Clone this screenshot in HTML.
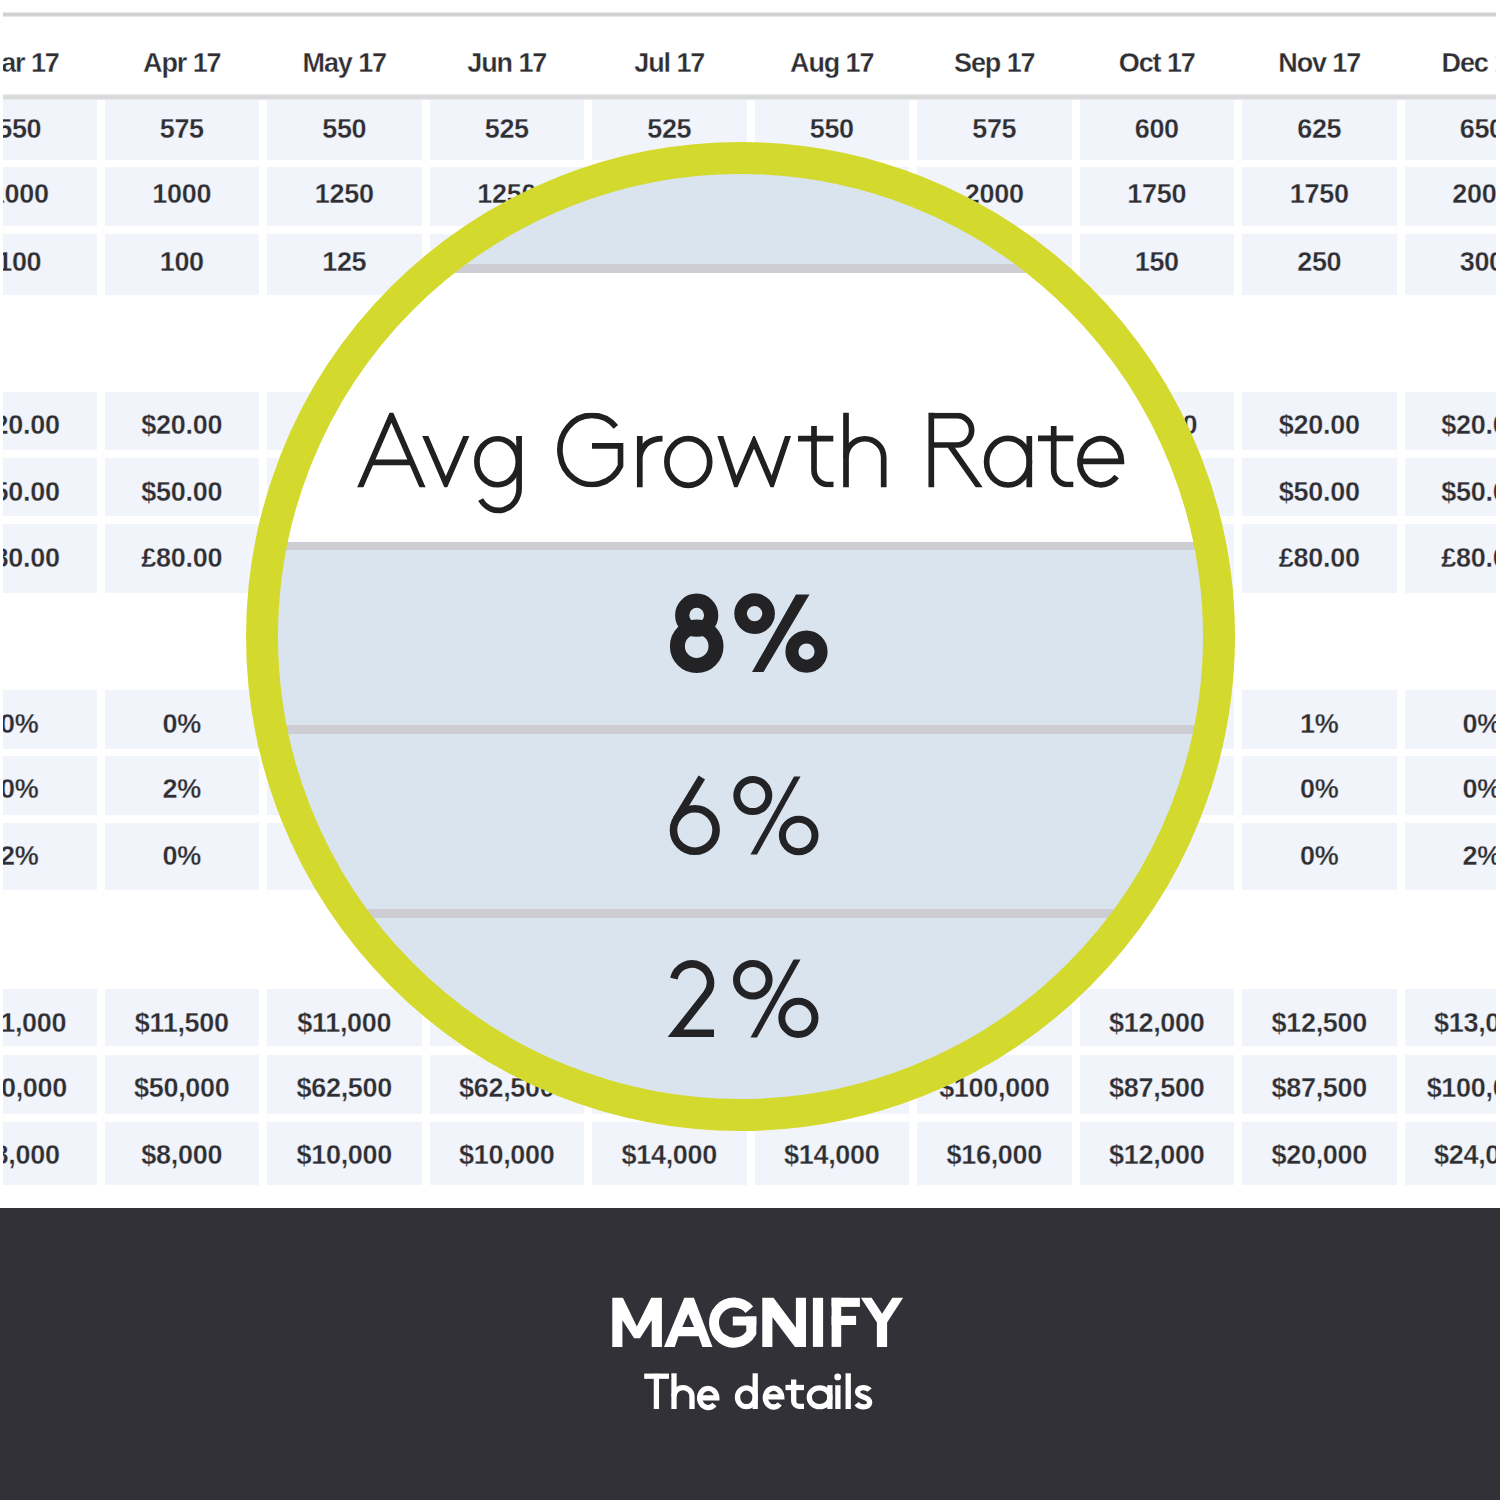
<!DOCTYPE html>
<html><head><meta charset="utf-8"><title>Magnify the details</title>
<style>
html,body{margin:0;padding:0;}
body{width:1500px;height:1500px;position:relative;overflow:hidden;background:#ffffff;font-family:"Liberation Sans", sans-serif;}
.b{position:absolute;}
.t{position:absolute;white-space:nowrap;font-family:"Liberation Sans", sans-serif;}
</style></head><body>
<div class="b" style="left:3px;top:12px;width:1494px;height:5px;background:linear-gradient(#f0f0f1,#cfcfd1 35%,#cfcfd1 65%,#f0f0f1)"></div>
<div class="t" style="left:-280.75px;top:50.14px;width:600px;font-size:27px;line-height:27px;font-weight:bold;color:#2e2e33;text-align:center;letter-spacing:-1.1px;-webkit-text-stroke:0.3px #fff;">Mar 17</div>
<div class="t" style="left:-118.25px;top:50.14px;width:600px;font-size:27px;line-height:27px;font-weight:bold;color:#2e2e33;text-align:center;letter-spacing:-1.1px;-webkit-text-stroke:0.3px #fff;">Apr 17</div>
<div class="t" style="left:44.25px;top:50.14px;width:600px;font-size:27px;line-height:27px;font-weight:bold;color:#2e2e33;text-align:center;letter-spacing:-1.1px;-webkit-text-stroke:0.3px #fff;">May 17</div>
<div class="t" style="left:206.75px;top:50.14px;width:600px;font-size:27px;line-height:27px;font-weight:bold;color:#2e2e33;text-align:center;letter-spacing:-1.1px;-webkit-text-stroke:0.3px #fff;">Jun 17</div>
<div class="t" style="left:369.25px;top:50.14px;width:600px;font-size:27px;line-height:27px;font-weight:bold;color:#2e2e33;text-align:center;letter-spacing:-1.1px;-webkit-text-stroke:0.3px #fff;">Jul 17</div>
<div class="t" style="left:531.75px;top:50.14px;width:600px;font-size:27px;line-height:27px;font-weight:bold;color:#2e2e33;text-align:center;letter-spacing:-1.1px;-webkit-text-stroke:0.3px #fff;">Aug 17</div>
<div class="t" style="left:694.25px;top:50.14px;width:600px;font-size:27px;line-height:27px;font-weight:bold;color:#2e2e33;text-align:center;letter-spacing:-1.1px;-webkit-text-stroke:0.3px #fff;">Sep 17</div>
<div class="t" style="left:856.75px;top:50.14px;width:600px;font-size:27px;line-height:27px;font-weight:bold;color:#2e2e33;text-align:center;letter-spacing:-1.1px;-webkit-text-stroke:0.3px #fff;">Oct 17</div>
<div class="t" style="left:1019.25px;top:50.14px;width:600px;font-size:27px;line-height:27px;font-weight:bold;color:#2e2e33;text-align:center;letter-spacing:-1.1px;-webkit-text-stroke:0.3px #fff;">Nov 17</div>
<div class="t" style="left:1181.75px;top:50.14px;width:600px;font-size:27px;line-height:27px;font-weight:bold;color:#2e2e33;text-align:center;letter-spacing:-1.1px;-webkit-text-stroke:0.3px #fff;">Dec 17</div>
<div class="b" style="left:3.0px;top:100px;width:93.5px;height:60px;background:#f1f4fa"></div>
<div class="b" style="left:104.5px;top:100px;width:154.5px;height:60px;background:#f1f4fa"></div>
<div class="b" style="left:267.0px;top:100px;width:154.5px;height:60px;background:#f1f4fa"></div>
<div class="b" style="left:429.5px;top:100px;width:154.5px;height:60px;background:#f1f4fa"></div>
<div class="b" style="left:592.0px;top:100px;width:154.5px;height:60px;background:#f1f4fa"></div>
<div class="b" style="left:754.5px;top:100px;width:154.5px;height:60px;background:#f1f4fa"></div>
<div class="b" style="left:917.0px;top:100px;width:154.5px;height:60px;background:#f1f4fa"></div>
<div class="b" style="left:1079.5px;top:100px;width:154.5px;height:60px;background:#f1f4fa"></div>
<div class="b" style="left:1242.0px;top:100px;width:154.5px;height:60px;background:#f1f4fa"></div>
<div class="b" style="left:1404.5px;top:100px;width:91.5px;height:60px;background:#f1f4fa"></div>
<div class="b" style="left:3.0px;top:167px;width:93.5px;height:59px;background:#f1f4fa"></div>
<div class="b" style="left:104.5px;top:167px;width:154.5px;height:59px;background:#f1f4fa"></div>
<div class="b" style="left:267.0px;top:167px;width:154.5px;height:59px;background:#f1f4fa"></div>
<div class="b" style="left:429.5px;top:167px;width:154.5px;height:59px;background:#f1f4fa"></div>
<div class="b" style="left:592.0px;top:167px;width:154.5px;height:59px;background:#f1f4fa"></div>
<div class="b" style="left:754.5px;top:167px;width:154.5px;height:59px;background:#f1f4fa"></div>
<div class="b" style="left:917.0px;top:167px;width:154.5px;height:59px;background:#f1f4fa"></div>
<div class="b" style="left:1079.5px;top:167px;width:154.5px;height:59px;background:#f1f4fa"></div>
<div class="b" style="left:1242.0px;top:167px;width:154.5px;height:59px;background:#f1f4fa"></div>
<div class="b" style="left:1404.5px;top:167px;width:91.5px;height:59px;background:#f1f4fa"></div>
<div class="b" style="left:3.0px;top:234px;width:93.5px;height:61px;background:#f1f4fa"></div>
<div class="b" style="left:104.5px;top:234px;width:154.5px;height:61px;background:#f1f4fa"></div>
<div class="b" style="left:267.0px;top:234px;width:154.5px;height:61px;background:#f1f4fa"></div>
<div class="b" style="left:429.5px;top:234px;width:154.5px;height:61px;background:#f1f4fa"></div>
<div class="b" style="left:592.0px;top:234px;width:154.5px;height:61px;background:#f1f4fa"></div>
<div class="b" style="left:754.5px;top:234px;width:154.5px;height:61px;background:#f1f4fa"></div>
<div class="b" style="left:917.0px;top:234px;width:154.5px;height:61px;background:#f1f4fa"></div>
<div class="b" style="left:1079.5px;top:234px;width:154.5px;height:61px;background:#f1f4fa"></div>
<div class="b" style="left:1242.0px;top:234px;width:154.5px;height:61px;background:#f1f4fa"></div>
<div class="b" style="left:1404.5px;top:234px;width:91.5px;height:61px;background:#f1f4fa"></div>
<div class="b" style="left:3.0px;top:392px;width:93.5px;height:58px;background:#f1f4fa"></div>
<div class="b" style="left:104.5px;top:392px;width:154.5px;height:58px;background:#f1f4fa"></div>
<div class="b" style="left:267.0px;top:392px;width:154.5px;height:58px;background:#f1f4fa"></div>
<div class="b" style="left:429.5px;top:392px;width:154.5px;height:58px;background:#f1f4fa"></div>
<div class="b" style="left:592.0px;top:392px;width:154.5px;height:58px;background:#f1f4fa"></div>
<div class="b" style="left:754.5px;top:392px;width:154.5px;height:58px;background:#f1f4fa"></div>
<div class="b" style="left:917.0px;top:392px;width:154.5px;height:58px;background:#f1f4fa"></div>
<div class="b" style="left:1079.5px;top:392px;width:154.5px;height:58px;background:#f1f4fa"></div>
<div class="b" style="left:1242.0px;top:392px;width:154.5px;height:58px;background:#f1f4fa"></div>
<div class="b" style="left:1404.5px;top:392px;width:91.5px;height:58px;background:#f1f4fa"></div>
<div class="b" style="left:3.0px;top:458px;width:93.5px;height:58px;background:#f1f4fa"></div>
<div class="b" style="left:104.5px;top:458px;width:154.5px;height:58px;background:#f1f4fa"></div>
<div class="b" style="left:267.0px;top:458px;width:154.5px;height:58px;background:#f1f4fa"></div>
<div class="b" style="left:429.5px;top:458px;width:154.5px;height:58px;background:#f1f4fa"></div>
<div class="b" style="left:592.0px;top:458px;width:154.5px;height:58px;background:#f1f4fa"></div>
<div class="b" style="left:754.5px;top:458px;width:154.5px;height:58px;background:#f1f4fa"></div>
<div class="b" style="left:917.0px;top:458px;width:154.5px;height:58px;background:#f1f4fa"></div>
<div class="b" style="left:1079.5px;top:458px;width:154.5px;height:58px;background:#f1f4fa"></div>
<div class="b" style="left:1242.0px;top:458px;width:154.5px;height:58px;background:#f1f4fa"></div>
<div class="b" style="left:1404.5px;top:458px;width:91.5px;height:58px;background:#f1f4fa"></div>
<div class="b" style="left:3.0px;top:524px;width:93.5px;height:69px;background:#f1f4fa"></div>
<div class="b" style="left:104.5px;top:524px;width:154.5px;height:69px;background:#f1f4fa"></div>
<div class="b" style="left:267.0px;top:524px;width:154.5px;height:69px;background:#f1f4fa"></div>
<div class="b" style="left:429.5px;top:524px;width:154.5px;height:69px;background:#f1f4fa"></div>
<div class="b" style="left:592.0px;top:524px;width:154.5px;height:69px;background:#f1f4fa"></div>
<div class="b" style="left:754.5px;top:524px;width:154.5px;height:69px;background:#f1f4fa"></div>
<div class="b" style="left:917.0px;top:524px;width:154.5px;height:69px;background:#f1f4fa"></div>
<div class="b" style="left:1079.5px;top:524px;width:154.5px;height:69px;background:#f1f4fa"></div>
<div class="b" style="left:1242.0px;top:524px;width:154.5px;height:69px;background:#f1f4fa"></div>
<div class="b" style="left:1404.5px;top:524px;width:91.5px;height:69px;background:#f1f4fa"></div>
<div class="b" style="left:3.0px;top:690px;width:93.5px;height:59px;background:#f1f4fa"></div>
<div class="b" style="left:104.5px;top:690px;width:154.5px;height:59px;background:#f1f4fa"></div>
<div class="b" style="left:267.0px;top:690px;width:154.5px;height:59px;background:#f1f4fa"></div>
<div class="b" style="left:429.5px;top:690px;width:154.5px;height:59px;background:#f1f4fa"></div>
<div class="b" style="left:592.0px;top:690px;width:154.5px;height:59px;background:#f1f4fa"></div>
<div class="b" style="left:754.5px;top:690px;width:154.5px;height:59px;background:#f1f4fa"></div>
<div class="b" style="left:917.0px;top:690px;width:154.5px;height:59px;background:#f1f4fa"></div>
<div class="b" style="left:1079.5px;top:690px;width:154.5px;height:59px;background:#f1f4fa"></div>
<div class="b" style="left:1242.0px;top:690px;width:154.5px;height:59px;background:#f1f4fa"></div>
<div class="b" style="left:1404.5px;top:690px;width:91.5px;height:59px;background:#f1f4fa"></div>
<div class="b" style="left:3.0px;top:756px;width:93.5px;height:59px;background:#f1f4fa"></div>
<div class="b" style="left:104.5px;top:756px;width:154.5px;height:59px;background:#f1f4fa"></div>
<div class="b" style="left:267.0px;top:756px;width:154.5px;height:59px;background:#f1f4fa"></div>
<div class="b" style="left:429.5px;top:756px;width:154.5px;height:59px;background:#f1f4fa"></div>
<div class="b" style="left:592.0px;top:756px;width:154.5px;height:59px;background:#f1f4fa"></div>
<div class="b" style="left:754.5px;top:756px;width:154.5px;height:59px;background:#f1f4fa"></div>
<div class="b" style="left:917.0px;top:756px;width:154.5px;height:59px;background:#f1f4fa"></div>
<div class="b" style="left:1079.5px;top:756px;width:154.5px;height:59px;background:#f1f4fa"></div>
<div class="b" style="left:1242.0px;top:756px;width:154.5px;height:59px;background:#f1f4fa"></div>
<div class="b" style="left:1404.5px;top:756px;width:91.5px;height:59px;background:#f1f4fa"></div>
<div class="b" style="left:3.0px;top:823px;width:93.5px;height:67px;background:#f1f4fa"></div>
<div class="b" style="left:104.5px;top:823px;width:154.5px;height:67px;background:#f1f4fa"></div>
<div class="b" style="left:267.0px;top:823px;width:154.5px;height:67px;background:#f1f4fa"></div>
<div class="b" style="left:429.5px;top:823px;width:154.5px;height:67px;background:#f1f4fa"></div>
<div class="b" style="left:592.0px;top:823px;width:154.5px;height:67px;background:#f1f4fa"></div>
<div class="b" style="left:754.5px;top:823px;width:154.5px;height:67px;background:#f1f4fa"></div>
<div class="b" style="left:917.0px;top:823px;width:154.5px;height:67px;background:#f1f4fa"></div>
<div class="b" style="left:1079.5px;top:823px;width:154.5px;height:67px;background:#f1f4fa"></div>
<div class="b" style="left:1242.0px;top:823px;width:154.5px;height:67px;background:#f1f4fa"></div>
<div class="b" style="left:1404.5px;top:823px;width:91.5px;height:67px;background:#f1f4fa"></div>
<div class="b" style="left:3.0px;top:989px;width:93.5px;height:57px;background:#f1f4fa"></div>
<div class="b" style="left:104.5px;top:989px;width:154.5px;height:57px;background:#f1f4fa"></div>
<div class="b" style="left:267.0px;top:989px;width:154.5px;height:57px;background:#f1f4fa"></div>
<div class="b" style="left:429.5px;top:989px;width:154.5px;height:57px;background:#f1f4fa"></div>
<div class="b" style="left:592.0px;top:989px;width:154.5px;height:57px;background:#f1f4fa"></div>
<div class="b" style="left:754.5px;top:989px;width:154.5px;height:57px;background:#f1f4fa"></div>
<div class="b" style="left:917.0px;top:989px;width:154.5px;height:57px;background:#f1f4fa"></div>
<div class="b" style="left:1079.5px;top:989px;width:154.5px;height:57px;background:#f1f4fa"></div>
<div class="b" style="left:1242.0px;top:989px;width:154.5px;height:57px;background:#f1f4fa"></div>
<div class="b" style="left:1404.5px;top:989px;width:91.5px;height:57px;background:#f1f4fa"></div>
<div class="b" style="left:3.0px;top:1055px;width:93.5px;height:59px;background:#f1f4fa"></div>
<div class="b" style="left:104.5px;top:1055px;width:154.5px;height:59px;background:#f1f4fa"></div>
<div class="b" style="left:267.0px;top:1055px;width:154.5px;height:59px;background:#f1f4fa"></div>
<div class="b" style="left:429.5px;top:1055px;width:154.5px;height:59px;background:#f1f4fa"></div>
<div class="b" style="left:592.0px;top:1055px;width:154.5px;height:59px;background:#f1f4fa"></div>
<div class="b" style="left:754.5px;top:1055px;width:154.5px;height:59px;background:#f1f4fa"></div>
<div class="b" style="left:917.0px;top:1055px;width:154.5px;height:59px;background:#f1f4fa"></div>
<div class="b" style="left:1079.5px;top:1055px;width:154.5px;height:59px;background:#f1f4fa"></div>
<div class="b" style="left:1242.0px;top:1055px;width:154.5px;height:59px;background:#f1f4fa"></div>
<div class="b" style="left:1404.5px;top:1055px;width:91.5px;height:59px;background:#f1f4fa"></div>
<div class="b" style="left:3.0px;top:1122px;width:93.5px;height:63px;background:#f1f4fa"></div>
<div class="b" style="left:104.5px;top:1122px;width:154.5px;height:63px;background:#f1f4fa"></div>
<div class="b" style="left:267.0px;top:1122px;width:154.5px;height:63px;background:#f1f4fa"></div>
<div class="b" style="left:429.5px;top:1122px;width:154.5px;height:63px;background:#f1f4fa"></div>
<div class="b" style="left:592.0px;top:1122px;width:154.5px;height:63px;background:#f1f4fa"></div>
<div class="b" style="left:754.5px;top:1122px;width:154.5px;height:63px;background:#f1f4fa"></div>
<div class="b" style="left:917.0px;top:1122px;width:154.5px;height:63px;background:#f1f4fa"></div>
<div class="b" style="left:1079.5px;top:1122px;width:154.5px;height:63px;background:#f1f4fa"></div>
<div class="b" style="left:1242.0px;top:1122px;width:154.5px;height:63px;background:#f1f4fa"></div>
<div class="b" style="left:1404.5px;top:1122px;width:91.5px;height:63px;background:#f1f4fa"></div>
<div class="b" style="left:3px;top:94px;width:1493px;height:6px;background:linear-gradient(#f2f2f2,#d9d9da 30%,#d9d9da 70%,#eef0f4)"></div>
<div class="t" style="left:-280.75px;top:116.14px;width:600px;font-size:27px;line-height:27px;font-weight:bold;color:#2e2e33;text-align:center;letter-spacing:-0.3px;-webkit-text-stroke:0.3px #f1f4fa;">550</div>
<div class="t" style="left:-118.25px;top:116.14px;width:600px;font-size:27px;line-height:27px;font-weight:bold;color:#2e2e33;text-align:center;letter-spacing:-0.3px;-webkit-text-stroke:0.3px #f1f4fa;">575</div>
<div class="t" style="left:44.25px;top:116.14px;width:600px;font-size:27px;line-height:27px;font-weight:bold;color:#2e2e33;text-align:center;letter-spacing:-0.3px;-webkit-text-stroke:0.3px #f1f4fa;">550</div>
<div class="t" style="left:206.75px;top:116.14px;width:600px;font-size:27px;line-height:27px;font-weight:bold;color:#2e2e33;text-align:center;letter-spacing:-0.3px;-webkit-text-stroke:0.3px #f1f4fa;">525</div>
<div class="t" style="left:369.25px;top:116.14px;width:600px;font-size:27px;line-height:27px;font-weight:bold;color:#2e2e33;text-align:center;letter-spacing:-0.3px;-webkit-text-stroke:0.3px #f1f4fa;">525</div>
<div class="t" style="left:531.75px;top:116.14px;width:600px;font-size:27px;line-height:27px;font-weight:bold;color:#2e2e33;text-align:center;letter-spacing:-0.3px;-webkit-text-stroke:0.3px #f1f4fa;">550</div>
<div class="t" style="left:694.25px;top:116.14px;width:600px;font-size:27px;line-height:27px;font-weight:bold;color:#2e2e33;text-align:center;letter-spacing:-0.3px;-webkit-text-stroke:0.3px #f1f4fa;">575</div>
<div class="t" style="left:856.75px;top:116.14px;width:600px;font-size:27px;line-height:27px;font-weight:bold;color:#2e2e33;text-align:center;letter-spacing:-0.3px;-webkit-text-stroke:0.3px #f1f4fa;">600</div>
<div class="t" style="left:1019.25px;top:116.14px;width:600px;font-size:27px;line-height:27px;font-weight:bold;color:#2e2e33;text-align:center;letter-spacing:-0.3px;-webkit-text-stroke:0.3px #f1f4fa;">625</div>
<div class="t" style="left:1181.75px;top:116.14px;width:600px;font-size:27px;line-height:27px;font-weight:bold;color:#2e2e33;text-align:center;letter-spacing:-0.3px;-webkit-text-stroke:0.3px #f1f4fa;">650</div>
<div class="t" style="left:-280.75px;top:181.14px;width:600px;font-size:27px;line-height:27px;font-weight:bold;color:#2e2e33;text-align:center;letter-spacing:-0.3px;-webkit-text-stroke:0.3px #f1f4fa;">1000</div>
<div class="t" style="left:-118.25px;top:181.14px;width:600px;font-size:27px;line-height:27px;font-weight:bold;color:#2e2e33;text-align:center;letter-spacing:-0.3px;-webkit-text-stroke:0.3px #f1f4fa;">1000</div>
<div class="t" style="left:44.25px;top:181.14px;width:600px;font-size:27px;line-height:27px;font-weight:bold;color:#2e2e33;text-align:center;letter-spacing:-0.3px;-webkit-text-stroke:0.3px #f1f4fa;">1250</div>
<div class="t" style="left:206.75px;top:181.14px;width:600px;font-size:27px;line-height:27px;font-weight:bold;color:#2e2e33;text-align:center;letter-spacing:-0.3px;-webkit-text-stroke:0.3px #f1f4fa;">1250</div>
<div class="t" style="left:369.25px;top:181.14px;width:600px;font-size:27px;line-height:27px;font-weight:bold;color:#2e2e33;text-align:center;letter-spacing:-0.3px;-webkit-text-stroke:0.3px #f1f4fa;">1500</div>
<div class="t" style="left:531.75px;top:181.14px;width:600px;font-size:27px;line-height:27px;font-weight:bold;color:#2e2e33;text-align:center;letter-spacing:-0.3px;-webkit-text-stroke:0.3px #f1f4fa;">1500</div>
<div class="t" style="left:694.25px;top:181.14px;width:600px;font-size:27px;line-height:27px;font-weight:bold;color:#2e2e33;text-align:center;letter-spacing:-0.3px;-webkit-text-stroke:0.3px #f1f4fa;">2000</div>
<div class="t" style="left:856.75px;top:181.14px;width:600px;font-size:27px;line-height:27px;font-weight:bold;color:#2e2e33;text-align:center;letter-spacing:-0.3px;-webkit-text-stroke:0.3px #f1f4fa;">1750</div>
<div class="t" style="left:1019.25px;top:181.14px;width:600px;font-size:27px;line-height:27px;font-weight:bold;color:#2e2e33;text-align:center;letter-spacing:-0.3px;-webkit-text-stroke:0.3px #f1f4fa;">1750</div>
<div class="t" style="left:1181.75px;top:181.14px;width:600px;font-size:27px;line-height:27px;font-weight:bold;color:#2e2e33;text-align:center;letter-spacing:-0.3px;-webkit-text-stroke:0.3px #f1f4fa;">2000</div>
<div class="t" style="left:-280.75px;top:249.14px;width:600px;font-size:27px;line-height:27px;font-weight:bold;color:#2e2e33;text-align:center;letter-spacing:-0.3px;-webkit-text-stroke:0.3px #f1f4fa;">100</div>
<div class="t" style="left:-118.25px;top:249.14px;width:600px;font-size:27px;line-height:27px;font-weight:bold;color:#2e2e33;text-align:center;letter-spacing:-0.3px;-webkit-text-stroke:0.3px #f1f4fa;">100</div>
<div class="t" style="left:44.25px;top:249.14px;width:600px;font-size:27px;line-height:27px;font-weight:bold;color:#2e2e33;text-align:center;letter-spacing:-0.3px;-webkit-text-stroke:0.3px #f1f4fa;">125</div>
<div class="t" style="left:206.75px;top:249.14px;width:600px;font-size:27px;line-height:27px;font-weight:bold;color:#2e2e33;text-align:center;letter-spacing:-0.3px;-webkit-text-stroke:0.3px #f1f4fa;">125</div>
<div class="t" style="left:369.25px;top:249.14px;width:600px;font-size:27px;line-height:27px;font-weight:bold;color:#2e2e33;text-align:center;letter-spacing:-0.3px;-webkit-text-stroke:0.3px #f1f4fa;">150</div>
<div class="t" style="left:531.75px;top:249.14px;width:600px;font-size:27px;line-height:27px;font-weight:bold;color:#2e2e33;text-align:center;letter-spacing:-0.3px;-webkit-text-stroke:0.3px #f1f4fa;">150</div>
<div class="t" style="left:694.25px;top:249.14px;width:600px;font-size:27px;line-height:27px;font-weight:bold;color:#2e2e33;text-align:center;letter-spacing:-0.3px;-webkit-text-stroke:0.3px #f1f4fa;">200</div>
<div class="t" style="left:856.75px;top:249.14px;width:600px;font-size:27px;line-height:27px;font-weight:bold;color:#2e2e33;text-align:center;letter-spacing:-0.3px;-webkit-text-stroke:0.3px #f1f4fa;">150</div>
<div class="t" style="left:1019.25px;top:249.14px;width:600px;font-size:27px;line-height:27px;font-weight:bold;color:#2e2e33;text-align:center;letter-spacing:-0.3px;-webkit-text-stroke:0.3px #f1f4fa;">250</div>
<div class="t" style="left:1181.75px;top:249.14px;width:600px;font-size:27px;line-height:27px;font-weight:bold;color:#2e2e33;text-align:center;letter-spacing:-0.3px;-webkit-text-stroke:0.3px #f1f4fa;">300</div>
<div class="t" style="left:-280.75px;top:412.14px;width:600px;font-size:27px;line-height:27px;font-weight:bold;color:#2e2e33;text-align:center;letter-spacing:-0.3px;-webkit-text-stroke:0.3px #f1f4fa;">$20.00</div>
<div class="t" style="left:-118.25px;top:412.14px;width:600px;font-size:27px;line-height:27px;font-weight:bold;color:#2e2e33;text-align:center;letter-spacing:-0.3px;-webkit-text-stroke:0.3px #f1f4fa;">$20.00</div>
<div class="t" style="left:44.25px;top:412.14px;width:600px;font-size:27px;line-height:27px;font-weight:bold;color:#2e2e33;text-align:center;letter-spacing:-0.3px;-webkit-text-stroke:0.3px #f1f4fa;">$20.00</div>
<div class="t" style="left:206.75px;top:412.14px;width:600px;font-size:27px;line-height:27px;font-weight:bold;color:#2e2e33;text-align:center;letter-spacing:-0.3px;-webkit-text-stroke:0.3px #f1f4fa;">$20.00</div>
<div class="t" style="left:369.25px;top:412.14px;width:600px;font-size:27px;line-height:27px;font-weight:bold;color:#2e2e33;text-align:center;letter-spacing:-0.3px;-webkit-text-stroke:0.3px #f1f4fa;">$20.00</div>
<div class="t" style="left:531.75px;top:412.14px;width:600px;font-size:27px;line-height:27px;font-weight:bold;color:#2e2e33;text-align:center;letter-spacing:-0.3px;-webkit-text-stroke:0.3px #f1f4fa;">$20.00</div>
<div class="t" style="left:694.25px;top:412.14px;width:600px;font-size:27px;line-height:27px;font-weight:bold;color:#2e2e33;text-align:center;letter-spacing:-0.3px;-webkit-text-stroke:0.3px #f1f4fa;">$20.00</div>
<div class="t" style="left:856.75px;top:412.14px;width:600px;font-size:27px;line-height:27px;font-weight:bold;color:#2e2e33;text-align:center;letter-spacing:-0.3px;-webkit-text-stroke:0.3px #f1f4fa;">$20.00</div>
<div class="t" style="left:1019.25px;top:412.14px;width:600px;font-size:27px;line-height:27px;font-weight:bold;color:#2e2e33;text-align:center;letter-spacing:-0.3px;-webkit-text-stroke:0.3px #f1f4fa;">$20.00</div>
<div class="t" style="left:1181.75px;top:412.14px;width:600px;font-size:27px;line-height:27px;font-weight:bold;color:#2e2e33;text-align:center;letter-spacing:-0.3px;-webkit-text-stroke:0.3px #f1f4fa;">$20.00</div>
<div class="t" style="left:-280.75px;top:479.14px;width:600px;font-size:27px;line-height:27px;font-weight:bold;color:#2e2e33;text-align:center;letter-spacing:-0.3px;-webkit-text-stroke:0.3px #f1f4fa;">$50.00</div>
<div class="t" style="left:-118.25px;top:479.14px;width:600px;font-size:27px;line-height:27px;font-weight:bold;color:#2e2e33;text-align:center;letter-spacing:-0.3px;-webkit-text-stroke:0.3px #f1f4fa;">$50.00</div>
<div class="t" style="left:44.25px;top:479.14px;width:600px;font-size:27px;line-height:27px;font-weight:bold;color:#2e2e33;text-align:center;letter-spacing:-0.3px;-webkit-text-stroke:0.3px #f1f4fa;">$50.00</div>
<div class="t" style="left:206.75px;top:479.14px;width:600px;font-size:27px;line-height:27px;font-weight:bold;color:#2e2e33;text-align:center;letter-spacing:-0.3px;-webkit-text-stroke:0.3px #f1f4fa;">$50.00</div>
<div class="t" style="left:369.25px;top:479.14px;width:600px;font-size:27px;line-height:27px;font-weight:bold;color:#2e2e33;text-align:center;letter-spacing:-0.3px;-webkit-text-stroke:0.3px #f1f4fa;">$50.00</div>
<div class="t" style="left:531.75px;top:479.14px;width:600px;font-size:27px;line-height:27px;font-weight:bold;color:#2e2e33;text-align:center;letter-spacing:-0.3px;-webkit-text-stroke:0.3px #f1f4fa;">$50.00</div>
<div class="t" style="left:694.25px;top:479.14px;width:600px;font-size:27px;line-height:27px;font-weight:bold;color:#2e2e33;text-align:center;letter-spacing:-0.3px;-webkit-text-stroke:0.3px #f1f4fa;">$50.00</div>
<div class="t" style="left:856.75px;top:479.14px;width:600px;font-size:27px;line-height:27px;font-weight:bold;color:#2e2e33;text-align:center;letter-spacing:-0.3px;-webkit-text-stroke:0.3px #f1f4fa;">$50.00</div>
<div class="t" style="left:1019.25px;top:479.14px;width:600px;font-size:27px;line-height:27px;font-weight:bold;color:#2e2e33;text-align:center;letter-spacing:-0.3px;-webkit-text-stroke:0.3px #f1f4fa;">$50.00</div>
<div class="t" style="left:1181.75px;top:479.14px;width:600px;font-size:27px;line-height:27px;font-weight:bold;color:#2e2e33;text-align:center;letter-spacing:-0.3px;-webkit-text-stroke:0.3px #f1f4fa;">$50.00</div>
<div class="t" style="left:-280.75px;top:545.14px;width:600px;font-size:27px;line-height:27px;font-weight:bold;color:#2e2e33;text-align:center;letter-spacing:-0.3px;-webkit-text-stroke:0.3px #f1f4fa;">£80.00</div>
<div class="t" style="left:-118.25px;top:545.14px;width:600px;font-size:27px;line-height:27px;font-weight:bold;color:#2e2e33;text-align:center;letter-spacing:-0.3px;-webkit-text-stroke:0.3px #f1f4fa;">£80.00</div>
<div class="t" style="left:44.25px;top:545.14px;width:600px;font-size:27px;line-height:27px;font-weight:bold;color:#2e2e33;text-align:center;letter-spacing:-0.3px;-webkit-text-stroke:0.3px #f1f4fa;">£80.00</div>
<div class="t" style="left:206.75px;top:545.14px;width:600px;font-size:27px;line-height:27px;font-weight:bold;color:#2e2e33;text-align:center;letter-spacing:-0.3px;-webkit-text-stroke:0.3px #f1f4fa;">£80.00</div>
<div class="t" style="left:369.25px;top:545.14px;width:600px;font-size:27px;line-height:27px;font-weight:bold;color:#2e2e33;text-align:center;letter-spacing:-0.3px;-webkit-text-stroke:0.3px #f1f4fa;">£80.00</div>
<div class="t" style="left:531.75px;top:545.14px;width:600px;font-size:27px;line-height:27px;font-weight:bold;color:#2e2e33;text-align:center;letter-spacing:-0.3px;-webkit-text-stroke:0.3px #f1f4fa;">£80.00</div>
<div class="t" style="left:694.25px;top:545.14px;width:600px;font-size:27px;line-height:27px;font-weight:bold;color:#2e2e33;text-align:center;letter-spacing:-0.3px;-webkit-text-stroke:0.3px #f1f4fa;">£80.00</div>
<div class="t" style="left:856.75px;top:545.14px;width:600px;font-size:27px;line-height:27px;font-weight:bold;color:#2e2e33;text-align:center;letter-spacing:-0.3px;-webkit-text-stroke:0.3px #f1f4fa;">£80.00</div>
<div class="t" style="left:1019.25px;top:545.14px;width:600px;font-size:27px;line-height:27px;font-weight:bold;color:#2e2e33;text-align:center;letter-spacing:-0.3px;-webkit-text-stroke:0.3px #f1f4fa;">£80.00</div>
<div class="t" style="left:1181.75px;top:545.14px;width:600px;font-size:27px;line-height:27px;font-weight:bold;color:#2e2e33;text-align:center;letter-spacing:-0.3px;-webkit-text-stroke:0.3px #f1f4fa;">£80.00</div>
<div class="t" style="left:-280.75px;top:711.14px;width:600px;font-size:27px;line-height:27px;font-weight:bold;color:#2e2e33;text-align:center;letter-spacing:-0.3px;-webkit-text-stroke:0.3px #f1f4fa;">0%</div>
<div class="t" style="left:-118.25px;top:711.14px;width:600px;font-size:27px;line-height:27px;font-weight:bold;color:#2e2e33;text-align:center;letter-spacing:-0.3px;-webkit-text-stroke:0.3px #f1f4fa;">0%</div>
<div class="t" style="left:44.25px;top:711.14px;width:600px;font-size:27px;line-height:27px;font-weight:bold;color:#2e2e33;text-align:center;letter-spacing:-0.3px;-webkit-text-stroke:0.3px #f1f4fa;">0%</div>
<div class="t" style="left:206.75px;top:711.14px;width:600px;font-size:27px;line-height:27px;font-weight:bold;color:#2e2e33;text-align:center;letter-spacing:-0.3px;-webkit-text-stroke:0.3px #f1f4fa;">0%</div>
<div class="t" style="left:369.25px;top:711.14px;width:600px;font-size:27px;line-height:27px;font-weight:bold;color:#2e2e33;text-align:center;letter-spacing:-0.3px;-webkit-text-stroke:0.3px #f1f4fa;">0%</div>
<div class="t" style="left:531.75px;top:711.14px;width:600px;font-size:27px;line-height:27px;font-weight:bold;color:#2e2e33;text-align:center;letter-spacing:-0.3px;-webkit-text-stroke:0.3px #f1f4fa;">0%</div>
<div class="t" style="left:694.25px;top:711.14px;width:600px;font-size:27px;line-height:27px;font-weight:bold;color:#2e2e33;text-align:center;letter-spacing:-0.3px;-webkit-text-stroke:0.3px #f1f4fa;">0%</div>
<div class="t" style="left:856.75px;top:711.14px;width:600px;font-size:27px;line-height:27px;font-weight:bold;color:#2e2e33;text-align:center;letter-spacing:-0.3px;-webkit-text-stroke:0.3px #f1f4fa;">0%</div>
<div class="t" style="left:1019.25px;top:711.14px;width:600px;font-size:27px;line-height:27px;font-weight:bold;color:#2e2e33;text-align:center;letter-spacing:-0.3px;-webkit-text-stroke:0.3px #f1f4fa;">1%</div>
<div class="t" style="left:1181.75px;top:711.14px;width:600px;font-size:27px;line-height:27px;font-weight:bold;color:#2e2e33;text-align:center;letter-spacing:-0.3px;-webkit-text-stroke:0.3px #f1f4fa;">0%</div>
<div class="t" style="left:-280.75px;top:776.14px;width:600px;font-size:27px;line-height:27px;font-weight:bold;color:#2e2e33;text-align:center;letter-spacing:-0.3px;-webkit-text-stroke:0.3px #f1f4fa;">0%</div>
<div class="t" style="left:-118.25px;top:776.14px;width:600px;font-size:27px;line-height:27px;font-weight:bold;color:#2e2e33;text-align:center;letter-spacing:-0.3px;-webkit-text-stroke:0.3px #f1f4fa;">2%</div>
<div class="t" style="left:44.25px;top:776.14px;width:600px;font-size:27px;line-height:27px;font-weight:bold;color:#2e2e33;text-align:center;letter-spacing:-0.3px;-webkit-text-stroke:0.3px #f1f4fa;">0%</div>
<div class="t" style="left:206.75px;top:776.14px;width:600px;font-size:27px;line-height:27px;font-weight:bold;color:#2e2e33;text-align:center;letter-spacing:-0.3px;-webkit-text-stroke:0.3px #f1f4fa;">0%</div>
<div class="t" style="left:369.25px;top:776.14px;width:600px;font-size:27px;line-height:27px;font-weight:bold;color:#2e2e33;text-align:center;letter-spacing:-0.3px;-webkit-text-stroke:0.3px #f1f4fa;">0%</div>
<div class="t" style="left:531.75px;top:776.14px;width:600px;font-size:27px;line-height:27px;font-weight:bold;color:#2e2e33;text-align:center;letter-spacing:-0.3px;-webkit-text-stroke:0.3px #f1f4fa;">0%</div>
<div class="t" style="left:694.25px;top:776.14px;width:600px;font-size:27px;line-height:27px;font-weight:bold;color:#2e2e33;text-align:center;letter-spacing:-0.3px;-webkit-text-stroke:0.3px #f1f4fa;">0%</div>
<div class="t" style="left:856.75px;top:776.14px;width:600px;font-size:27px;line-height:27px;font-weight:bold;color:#2e2e33;text-align:center;letter-spacing:-0.3px;-webkit-text-stroke:0.3px #f1f4fa;">0%</div>
<div class="t" style="left:1019.25px;top:776.14px;width:600px;font-size:27px;line-height:27px;font-weight:bold;color:#2e2e33;text-align:center;letter-spacing:-0.3px;-webkit-text-stroke:0.3px #f1f4fa;">0%</div>
<div class="t" style="left:1181.75px;top:776.14px;width:600px;font-size:27px;line-height:27px;font-weight:bold;color:#2e2e33;text-align:center;letter-spacing:-0.3px;-webkit-text-stroke:0.3px #f1f4fa;">0%</div>
<div class="t" style="left:-280.75px;top:843.14px;width:600px;font-size:27px;line-height:27px;font-weight:bold;color:#2e2e33;text-align:center;letter-spacing:-0.3px;-webkit-text-stroke:0.3px #f1f4fa;">2%</div>
<div class="t" style="left:-118.25px;top:843.14px;width:600px;font-size:27px;line-height:27px;font-weight:bold;color:#2e2e33;text-align:center;letter-spacing:-0.3px;-webkit-text-stroke:0.3px #f1f4fa;">0%</div>
<div class="t" style="left:44.25px;top:843.14px;width:600px;font-size:27px;line-height:27px;font-weight:bold;color:#2e2e33;text-align:center;letter-spacing:-0.3px;-webkit-text-stroke:0.3px #f1f4fa;">0%</div>
<div class="t" style="left:206.75px;top:843.14px;width:600px;font-size:27px;line-height:27px;font-weight:bold;color:#2e2e33;text-align:center;letter-spacing:-0.3px;-webkit-text-stroke:0.3px #f1f4fa;">0%</div>
<div class="t" style="left:369.25px;top:843.14px;width:600px;font-size:27px;line-height:27px;font-weight:bold;color:#2e2e33;text-align:center;letter-spacing:-0.3px;-webkit-text-stroke:0.3px #f1f4fa;">0%</div>
<div class="t" style="left:531.75px;top:843.14px;width:600px;font-size:27px;line-height:27px;font-weight:bold;color:#2e2e33;text-align:center;letter-spacing:-0.3px;-webkit-text-stroke:0.3px #f1f4fa;">0%</div>
<div class="t" style="left:694.25px;top:843.14px;width:600px;font-size:27px;line-height:27px;font-weight:bold;color:#2e2e33;text-align:center;letter-spacing:-0.3px;-webkit-text-stroke:0.3px #f1f4fa;">0%</div>
<div class="t" style="left:856.75px;top:843.14px;width:600px;font-size:27px;line-height:27px;font-weight:bold;color:#2e2e33;text-align:center;letter-spacing:-0.3px;-webkit-text-stroke:0.3px #f1f4fa;">0%</div>
<div class="t" style="left:1019.25px;top:843.14px;width:600px;font-size:27px;line-height:27px;font-weight:bold;color:#2e2e33;text-align:center;letter-spacing:-0.3px;-webkit-text-stroke:0.3px #f1f4fa;">0%</div>
<div class="t" style="left:1181.75px;top:843.14px;width:600px;font-size:27px;line-height:27px;font-weight:bold;color:#2e2e33;text-align:center;letter-spacing:-0.3px;-webkit-text-stroke:0.3px #f1f4fa;">2%</div>
<div class="t" style="left:-280.75px;top:1010.14px;width:600px;font-size:27px;line-height:27px;font-weight:bold;color:#2e2e33;text-align:center;letter-spacing:-0.3px;-webkit-text-stroke:0.3px #f1f4fa;">$11,000</div>
<div class="t" style="left:-118.25px;top:1010.14px;width:600px;font-size:27px;line-height:27px;font-weight:bold;color:#2e2e33;text-align:center;letter-spacing:-0.3px;-webkit-text-stroke:0.3px #f1f4fa;">$11,500</div>
<div class="t" style="left:44.25px;top:1010.14px;width:600px;font-size:27px;line-height:27px;font-weight:bold;color:#2e2e33;text-align:center;letter-spacing:-0.3px;-webkit-text-stroke:0.3px #f1f4fa;">$11,000</div>
<div class="t" style="left:206.75px;top:1010.14px;width:600px;font-size:27px;line-height:27px;font-weight:bold;color:#2e2e33;text-align:center;letter-spacing:-0.3px;-webkit-text-stroke:0.3px #f1f4fa;">$10,500</div>
<div class="t" style="left:369.25px;top:1010.14px;width:600px;font-size:27px;line-height:27px;font-weight:bold;color:#2e2e33;text-align:center;letter-spacing:-0.3px;-webkit-text-stroke:0.3px #f1f4fa;">$10,500</div>
<div class="t" style="left:531.75px;top:1010.14px;width:600px;font-size:27px;line-height:27px;font-weight:bold;color:#2e2e33;text-align:center;letter-spacing:-0.3px;-webkit-text-stroke:0.3px #f1f4fa;">$11,000</div>
<div class="t" style="left:694.25px;top:1010.14px;width:600px;font-size:27px;line-height:27px;font-weight:bold;color:#2e2e33;text-align:center;letter-spacing:-0.3px;-webkit-text-stroke:0.3px #f1f4fa;">$11,500</div>
<div class="t" style="left:856.75px;top:1010.14px;width:600px;font-size:27px;line-height:27px;font-weight:bold;color:#2e2e33;text-align:center;letter-spacing:-0.3px;-webkit-text-stroke:0.3px #f1f4fa;">$12,000</div>
<div class="t" style="left:1019.25px;top:1010.14px;width:600px;font-size:27px;line-height:27px;font-weight:bold;color:#2e2e33;text-align:center;letter-spacing:-0.3px;-webkit-text-stroke:0.3px #f1f4fa;">$12,500</div>
<div class="t" style="left:1181.75px;top:1010.14px;width:600px;font-size:27px;line-height:27px;font-weight:bold;color:#2e2e33;text-align:center;letter-spacing:-0.3px;-webkit-text-stroke:0.3px #f1f4fa;">$13,000</div>
<div class="t" style="left:-280.75px;top:1075.14px;width:600px;font-size:27px;line-height:27px;font-weight:bold;color:#2e2e33;text-align:center;letter-spacing:-0.3px;-webkit-text-stroke:0.3px #f1f4fa;">$50,000</div>
<div class="t" style="left:-118.25px;top:1075.14px;width:600px;font-size:27px;line-height:27px;font-weight:bold;color:#2e2e33;text-align:center;letter-spacing:-0.3px;-webkit-text-stroke:0.3px #f1f4fa;">$50,000</div>
<div class="t" style="left:44.25px;top:1075.14px;width:600px;font-size:27px;line-height:27px;font-weight:bold;color:#2e2e33;text-align:center;letter-spacing:-0.3px;-webkit-text-stroke:0.3px #f1f4fa;">$62,500</div>
<div class="t" style="left:206.75px;top:1075.14px;width:600px;font-size:27px;line-height:27px;font-weight:bold;color:#2e2e33;text-align:center;letter-spacing:-0.3px;-webkit-text-stroke:0.3px #f1f4fa;">$62,500</div>
<div class="t" style="left:369.25px;top:1075.14px;width:600px;font-size:27px;line-height:27px;font-weight:bold;color:#2e2e33;text-align:center;letter-spacing:-0.3px;-webkit-text-stroke:0.3px #f1f4fa;">$75,000</div>
<div class="t" style="left:531.75px;top:1075.14px;width:600px;font-size:27px;line-height:27px;font-weight:bold;color:#2e2e33;text-align:center;letter-spacing:-0.3px;-webkit-text-stroke:0.3px #f1f4fa;">$75,000</div>
<div class="t" style="left:694.25px;top:1075.14px;width:600px;font-size:27px;line-height:27px;font-weight:bold;color:#2e2e33;text-align:center;letter-spacing:-0.3px;-webkit-text-stroke:0.3px #f1f4fa;">$100,000</div>
<div class="t" style="left:856.75px;top:1075.14px;width:600px;font-size:27px;line-height:27px;font-weight:bold;color:#2e2e33;text-align:center;letter-spacing:-0.3px;-webkit-text-stroke:0.3px #f1f4fa;">$87,500</div>
<div class="t" style="left:1019.25px;top:1075.14px;width:600px;font-size:27px;line-height:27px;font-weight:bold;color:#2e2e33;text-align:center;letter-spacing:-0.3px;-webkit-text-stroke:0.3px #f1f4fa;">$87,500</div>
<div class="t" style="left:1181.75px;top:1075.14px;width:600px;font-size:27px;line-height:27px;font-weight:bold;color:#2e2e33;text-align:center;letter-spacing:-0.3px;-webkit-text-stroke:0.3px #f1f4fa;">$100,000</div>
<div class="t" style="left:-280.75px;top:1142.14px;width:600px;font-size:27px;line-height:27px;font-weight:bold;color:#2e2e33;text-align:center;letter-spacing:-0.3px;-webkit-text-stroke:0.3px #f1f4fa;">$8,000</div>
<div class="t" style="left:-118.25px;top:1142.14px;width:600px;font-size:27px;line-height:27px;font-weight:bold;color:#2e2e33;text-align:center;letter-spacing:-0.3px;-webkit-text-stroke:0.3px #f1f4fa;">$8,000</div>
<div class="t" style="left:44.25px;top:1142.14px;width:600px;font-size:27px;line-height:27px;font-weight:bold;color:#2e2e33;text-align:center;letter-spacing:-0.3px;-webkit-text-stroke:0.3px #f1f4fa;">$10,000</div>
<div class="t" style="left:206.75px;top:1142.14px;width:600px;font-size:27px;line-height:27px;font-weight:bold;color:#2e2e33;text-align:center;letter-spacing:-0.3px;-webkit-text-stroke:0.3px #f1f4fa;">$10,000</div>
<div class="t" style="left:369.25px;top:1142.14px;width:600px;font-size:27px;line-height:27px;font-weight:bold;color:#2e2e33;text-align:center;letter-spacing:-0.3px;-webkit-text-stroke:0.3px #f1f4fa;">$14,000</div>
<div class="t" style="left:531.75px;top:1142.14px;width:600px;font-size:27px;line-height:27px;font-weight:bold;color:#2e2e33;text-align:center;letter-spacing:-0.3px;-webkit-text-stroke:0.3px #f1f4fa;">$14,000</div>
<div class="t" style="left:694.25px;top:1142.14px;width:600px;font-size:27px;line-height:27px;font-weight:bold;color:#2e2e33;text-align:center;letter-spacing:-0.3px;-webkit-text-stroke:0.3px #f1f4fa;">$16,000</div>
<div class="t" style="left:856.75px;top:1142.14px;width:600px;font-size:27px;line-height:27px;font-weight:bold;color:#2e2e33;text-align:center;letter-spacing:-0.3px;-webkit-text-stroke:0.3px #f1f4fa;">$12,000</div>
<div class="t" style="left:1019.25px;top:1142.14px;width:600px;font-size:27px;line-height:27px;font-weight:bold;color:#2e2e33;text-align:center;letter-spacing:-0.3px;-webkit-text-stroke:0.3px #f1f4fa;">$20,000</div>
<div class="t" style="left:1181.75px;top:1142.14px;width:600px;font-size:27px;line-height:27px;font-weight:bold;color:#2e2e33;text-align:center;letter-spacing:-0.3px;-webkit-text-stroke:0.3px #f1f4fa;">$24,000</div>
<div class="b" style="left:276.5px;top:172.5px;width:928.0px;height:928.0px;border-radius:50%;overflow:hidden;background:#d9e4ef"><div class="b" style="left:2px;top:2px;width:924.0px;height:924.0px"><div class="b" style="left:0;top:-5.00px;width:924.0px;height:94.50px;background:#d9e4ef"></div><div class="b" style="left:0;top:89.50px;width:924.0px;height:9.00px;background:#cfcdd4"></div><div class="b" style="left:0;top:98.50px;width:924.0px;height:269.00px;background:#ffffff"></div><div class="b" style="left:0;top:367.50px;width:924.0px;height:8.00px;background:#cfcdd4"></div><div class="b" style="left:0;top:375.50px;width:924.0px;height:175.00px;background:#d9e4ef"></div><div class="b" style="left:0;top:550.50px;width:924.0px;height:9.00px;background:#cfcdd4"></div><div class="b" style="left:0;top:559.50px;width:924.0px;height:175.00px;background:#d9e4ef"></div><div class="b" style="left:0;top:734.50px;width:924.0px;height:9.00px;background:#cfcdd4"></div><div class="b" style="left:0;top:743.50px;width:924.0px;height:185.50px;background:#d9e4ef"></div></div></div>
<svg class="b" style="left:0;top:0" width="1500" height="1500" viewBox="0 0 1500 1500"><circle cx="696.7" cy="615.2" r="14.5" stroke="#232326" stroke-width="14.2" fill="none"/><circle cx="696.7" cy="646.2" r="19.3" stroke="#232326" stroke-width="15.0" fill="none"/><circle cx="754.6" cy="613.6" r="14.0" stroke="#232326" stroke-width="12.6" fill="none"/><circle cx="806.5" cy="651.6" r="14.6" stroke="#232326" stroke-width="13.0" fill="none"/><polygon points="796.00,594.50 809.50,594.50 763.50,672.00 752.00,672.00" fill="#232326"/><path d="M701.80,777.50 L676.60,818.93" stroke="#232326" stroke-width="7.6" fill="none" stroke-linecap="butt"/><circle cx="694.8" cy="830.0" r="21.3" stroke="#232326" stroke-width="7.6" fill="none"/><circle cx="752.8" cy="795.6" r="16.0" stroke="#232326" stroke-width="7.0" fill="none"/><circle cx="798.7" cy="835.5" r="16.3" stroke="#232326" stroke-width="7.0" fill="none"/><polygon points="794.00,776.50 800.50,776.50 757.00,854.50 750.50,854.50" fill="#232326"/><path d="M673.90,978.65 A18.5,18.5,0 1 1 706.53,993.96 L675.50,1033.30 L714.00,1033.30" stroke="#232326" stroke-width="7.6" fill="none" stroke-linecap="butt" stroke-linejoin="miter"/><circle cx="752.8" cy="979.8" r="16.3" stroke="#232326" stroke-width="7.0" fill="none"/><circle cx="798.4" cy="1017.9" r="16.6" stroke="#232326" stroke-width="7.0" fill="none"/><polygon points="793.60,959.50 800.50,959.50 757.00,1037.50 750.50,1037.50" fill="#232326"/><defs><clipPath id="cp"><rect x="300" y="412.7" width="900" height="74.60000000000002"/></clipPath><clipPath id="cx"><rect x="300" y="436.0" width="900" height="51.30000000000001"/></clipPath></defs><g clip-path="url(#cp)"><path d="M356.83,495.30 L391.4,415.5 L425.97,495.30" stroke="#202022" stroke-width="5.7" fill="none" stroke-linecap="butt" stroke-linejoin="miter" stroke-miterlimit="10"/><path d="M370,462.3 L413,462.3" stroke="#202022" stroke-width="5.7" fill="none" stroke-linecap="butt" stroke-linejoin="miter" stroke-miterlimit="10"/><path d="M846,405 L846,492" stroke="#202022" stroke-width="5.7" fill="none" stroke-linecap="butt" stroke-linejoin="miter" stroke-miterlimit="10"/><path d="M846,457.6 A18.85,18.85 0 0 1 883.7,457.6 L883.7,492" stroke="#202022" stroke-width="5.7" fill="none" stroke-linecap="butt" stroke-linejoin="miter" stroke-miterlimit="10"/><path d="M814,426 L814,470 A14.7,14.7 0 0 0 828.7,484.7 L833.5,484.7" stroke="#202022" stroke-width="5.7" fill="none" stroke-linecap="butt" stroke-linejoin="miter" stroke-miterlimit="10"/><path d="M798,438.7 L833.3,438.7" stroke="#202022" stroke-width="5.7" fill="none" stroke-linecap="butt" stroke-linejoin="miter" stroke-miterlimit="10"/><path d="M1053.7,426 L1053.7,470 A14.7,14.7 0 0 0 1068.4,484.7 L1073.3,484.7" stroke="#202022" stroke-width="5.7" fill="none" stroke-linecap="butt" stroke-linejoin="miter" stroke-miterlimit="10"/><path d="M1038,438.3 L1073.3,438.3" stroke="#202022" stroke-width="5.7" fill="none" stroke-linecap="butt" stroke-linejoin="miter" stroke-miterlimit="10"/><path d="M931.3,405 L931.3,492" stroke="#202022" stroke-width="5.7" fill="none" stroke-linecap="butt" stroke-linejoin="miter" stroke-miterlimit="10"/><path d="M931.3,415.7 L957,415.7 A14.65,14.65 0 0 1 957,445 L931.3,445" stroke="#202022" stroke-width="5.7" fill="none" stroke-linecap="butt" stroke-linejoin="miter" stroke-miterlimit="10"/><path d="M949.5,445 L982.5,492" stroke="#202022" stroke-width="5.7" fill="none" stroke-linecap="butt" stroke-linejoin="miter" stroke-miterlimit="10"/><path d="M615.9,426.9 A32.1,34.5 0 1 0 620.5,465.9 L620.5,445.8 L592,445.8" stroke="#202022" stroke-width="5.7" fill="none" stroke-linecap="butt" stroke-linejoin="miter" stroke-miterlimit="10"/></g><g clip-path="url(#cx)"><path d="M421.85,428.00 L445.8,483.5 L469.75,428.00" stroke="#202022" stroke-width="5.7" fill="none" stroke-linecap="butt" stroke-linejoin="miter" stroke-miterlimit="10"/><path d="M717.66,428.00 L736,483.5 L754,441.5 L772,483.5 L790.69,428.00" stroke="#202022" stroke-width="5.7" fill="none" stroke-linecap="butt" stroke-linejoin="miter" stroke-miterlimit="10"/><path d="M639.8,430 L639.8,492" stroke="#202022" stroke-width="5.7" fill="none" stroke-linecap="butt" stroke-linejoin="miter" stroke-miterlimit="10"/><path d="M1029.3,430 L1029.3,492" stroke="#202022" stroke-width="5.7" fill="none" stroke-linecap="butt" stroke-linejoin="miter" stroke-miterlimit="10"/><path d="M519.1,430 L519.1,440" stroke="#202022" stroke-width="5.7" fill="none" stroke-linecap="butt" stroke-linejoin="miter" stroke-miterlimit="10"/></g><ellipse cx="688.3" cy="462" rx="21.4" ry="23.3" stroke="#202022" stroke-width="5.7" fill="none" stroke-linecap="butt" stroke-linejoin="miter" stroke-miterlimit="10"/><ellipse cx="1008" cy="461.7" rx="21.4" ry="23.3" stroke="#202022" stroke-width="5.7" fill="none" stroke-linecap="butt" stroke-linejoin="miter" stroke-miterlimit="10"/><path d="M1080,461.3 L1121.4,461.3 A20.7,23 0 1 0 1116.6,476.5" stroke="#202022" stroke-width="5.7" fill="none" stroke-linecap="butt" stroke-linejoin="miter" stroke-miterlimit="10"/><ellipse cx="497.6" cy="461.75" rx="20.7" ry="23" stroke="#202022" stroke-width="5.7" fill="none" stroke-linecap="butt" stroke-linejoin="miter" stroke-miterlimit="10"/><path d="M519.1,437 L519.1,488.5 A20.6,22 0 0 1 480.7,499.5" stroke="#202022" stroke-width="5.7" fill="none" stroke-linecap="butt" stroke-linejoin="miter" stroke-miterlimit="10"/><path d="M639.8,456 C643,443 652,438.6 662.5,438.6" stroke="#202022" stroke-width="5.7" fill="none" stroke-linecap="butt" stroke-linejoin="miter" stroke-miterlimit="10"/></svg>
<div class="b" style="left:246.0px;top:142.0px;width:989.0px;height:989.0px;border-radius:50%;box-sizing:border-box;border:32.5px solid #d4d92e"></div>
<div class="b" style="left:0;top:0;width:3px;height:1208px;background:#fff"></div>
<div class="b" style="left:1496px;top:0;width:4px;height:1208px;background:#fff"></div>
<div class="b" style="left:0;top:1208px;width:1500px;height:292px;background:#323137"></div>
<svg class="b" style="left:0;top:0" width="1500" height="1500" viewBox="0 0 1500 1500"><polygon points="612.30,1346.90 612.30,1297.80 622.90,1297.80 636.80,1326.60 651.20,1297.80 661.90,1297.80 661.90,1346.90 651.70,1346.90 651.70,1320.20 640.00,1338.30 634.10,1338.30 622.40,1320.20 622.40,1346.90" fill="#ffffff" /><path fill-rule="evenodd" fill="#ffffff" d="M664,1346.9 L684.3,1297.8 L693.9,1297.8 L712.5,1346.9 L702.4,1346.9 L698.7,1336.2 L678.4,1336.2 L674.7,1346.9 Z M688.2,1313.8 L694,1327.1 L682.3,1327.1 Z"/><path d="M749.32,1309.74 A20.0,20.0 0 1 0 751.30,1332.64 L751.30,1316.5" stroke-width="10" stroke="#ffffff" fill="none" stroke-linecap="butt"/><path d="M732.8,1321 L756.3,1321" stroke-width="9" stroke="#ffffff" fill="none" stroke-linecap="butt"/><polygon points="762.30,1346.90 762.30,1297.80 773.50,1297.80 795.90,1327.70 795.90,1297.80 806.00,1297.80 806.00,1346.90 795.00,1346.90 772.40,1317.00 772.40,1346.90" fill="#ffffff" /><rect x="812.9" y="1297.8" width="10.2" height="49.1" fill="#ffffff"/><rect x="831.6" y="1297.8" width="9.6" height="49.1" fill="#ffffff"/><rect x="831.6" y="1297.8" width="28.3" height="9.1" fill="#ffffff"/><rect x="831.6" y="1315.9" width="24.5" height="9.1" fill="#ffffff"/><polygon points="860.90,1297.80 871.60,1297.80 882.10,1313.80 892.40,1297.80 903.10,1297.80 887.10,1322.50 887.10,1346.90 876.90,1346.90 876.90,1322.50" fill="#ffffff" /><path d="M644.2,1376.2 L669,1376.2" stroke="#ffffff" stroke-width="5.3" fill="none" stroke-linecap="butt" stroke-linejoin="miter"/><path d="M656.4,1373.8 L656.4,1409.0" stroke="#ffffff" stroke-width="5.3" fill="none" stroke-linecap="butt" stroke-linejoin="miter"/><path d="M674,1373.3 L674,1409.0" stroke="#ffffff" stroke-width="5.3" fill="none" stroke-linecap="butt" stroke-linejoin="miter"/><path d="M674,1396.6 A9,9 0 0 1 692,1396.6 L692,1409.0" stroke="#ffffff" stroke-width="5.3" fill="none" stroke-linecap="butt" stroke-linejoin="miter"/><path d="M699.7,1397.8 L716.8,1397.8 A8.6,9.6 0 1 0 714.5,1404.5" stroke="#ffffff" stroke-width="5.3" fill="none" stroke-linecap="butt" stroke-linejoin="miter"/><ellipse cx="746.35" cy="1397.3" rx="8.85" ry="9.4" stroke="#ffffff" stroke-width="5.3" fill="none" stroke-linecap="butt" stroke-linejoin="miter"/><path d="M755.2,1373.3 L755.2,1409.0" stroke="#ffffff" stroke-width="5.3" fill="none" stroke-linecap="butt" stroke-linejoin="miter"/><path d="M765.4,1396.8 L781.7,1396.8 A8.2,9.4 0 1 0 779.7,1403.8" stroke="#ffffff" stroke-width="5.3" fill="none" stroke-linecap="butt" stroke-linejoin="miter"/><path d="M793.7,1379.5 L793.7,1401 A5.3,5.3 0 0 0 799,1406.3 L804,1406.3" stroke="#ffffff" stroke-width="5.3" fill="none" stroke-linecap="butt" stroke-linejoin="miter"/><path d="M785.5,1387.5 L804,1387.5" stroke="#ffffff" stroke-width="5.3" fill="none" stroke-linecap="butt" stroke-linejoin="miter"/><ellipse cx="819.6" cy="1397.3" rx="10.3" ry="9.4" stroke="#ffffff" stroke-width="5.3" fill="none" stroke-linecap="butt" stroke-linejoin="miter"/><path d="M829.9,1385.2 L829.9,1409.0" stroke="#ffffff" stroke-width="5.3" fill="none" stroke-linecap="butt" stroke-linejoin="miter"/><path d="M837.9,1385.2 L837.9,1409.0" stroke="#ffffff" stroke-width="5.3" fill="none" stroke-linecap="butt" stroke-linejoin="miter"/><circle cx="837.7" cy="1376.9" r="3.4" fill="#ffffff"/><path d="M848.2,1373.3 L848.2,1409.0" stroke="#ffffff" stroke-width="5.3" fill="none" stroke-linecap="butt" stroke-linejoin="miter"/><path d="M869.6,1390.2 C868,1388.2 865.5,1387.6 863.2,1387.6 C859.6,1387.6 857.6,1389.6 857.6,1391.9 C857.6,1398.2 869.7,1395.6 869.7,1402.4 C869.7,1405 867.4,1406.9 863.6,1406.9 C860.6,1406.9 858.2,1405.7 856.6,1403.6" stroke="#ffffff" stroke-width="5.3" fill="none" stroke-linecap="butt" stroke-linejoin="miter"/></svg>
</body></html>
